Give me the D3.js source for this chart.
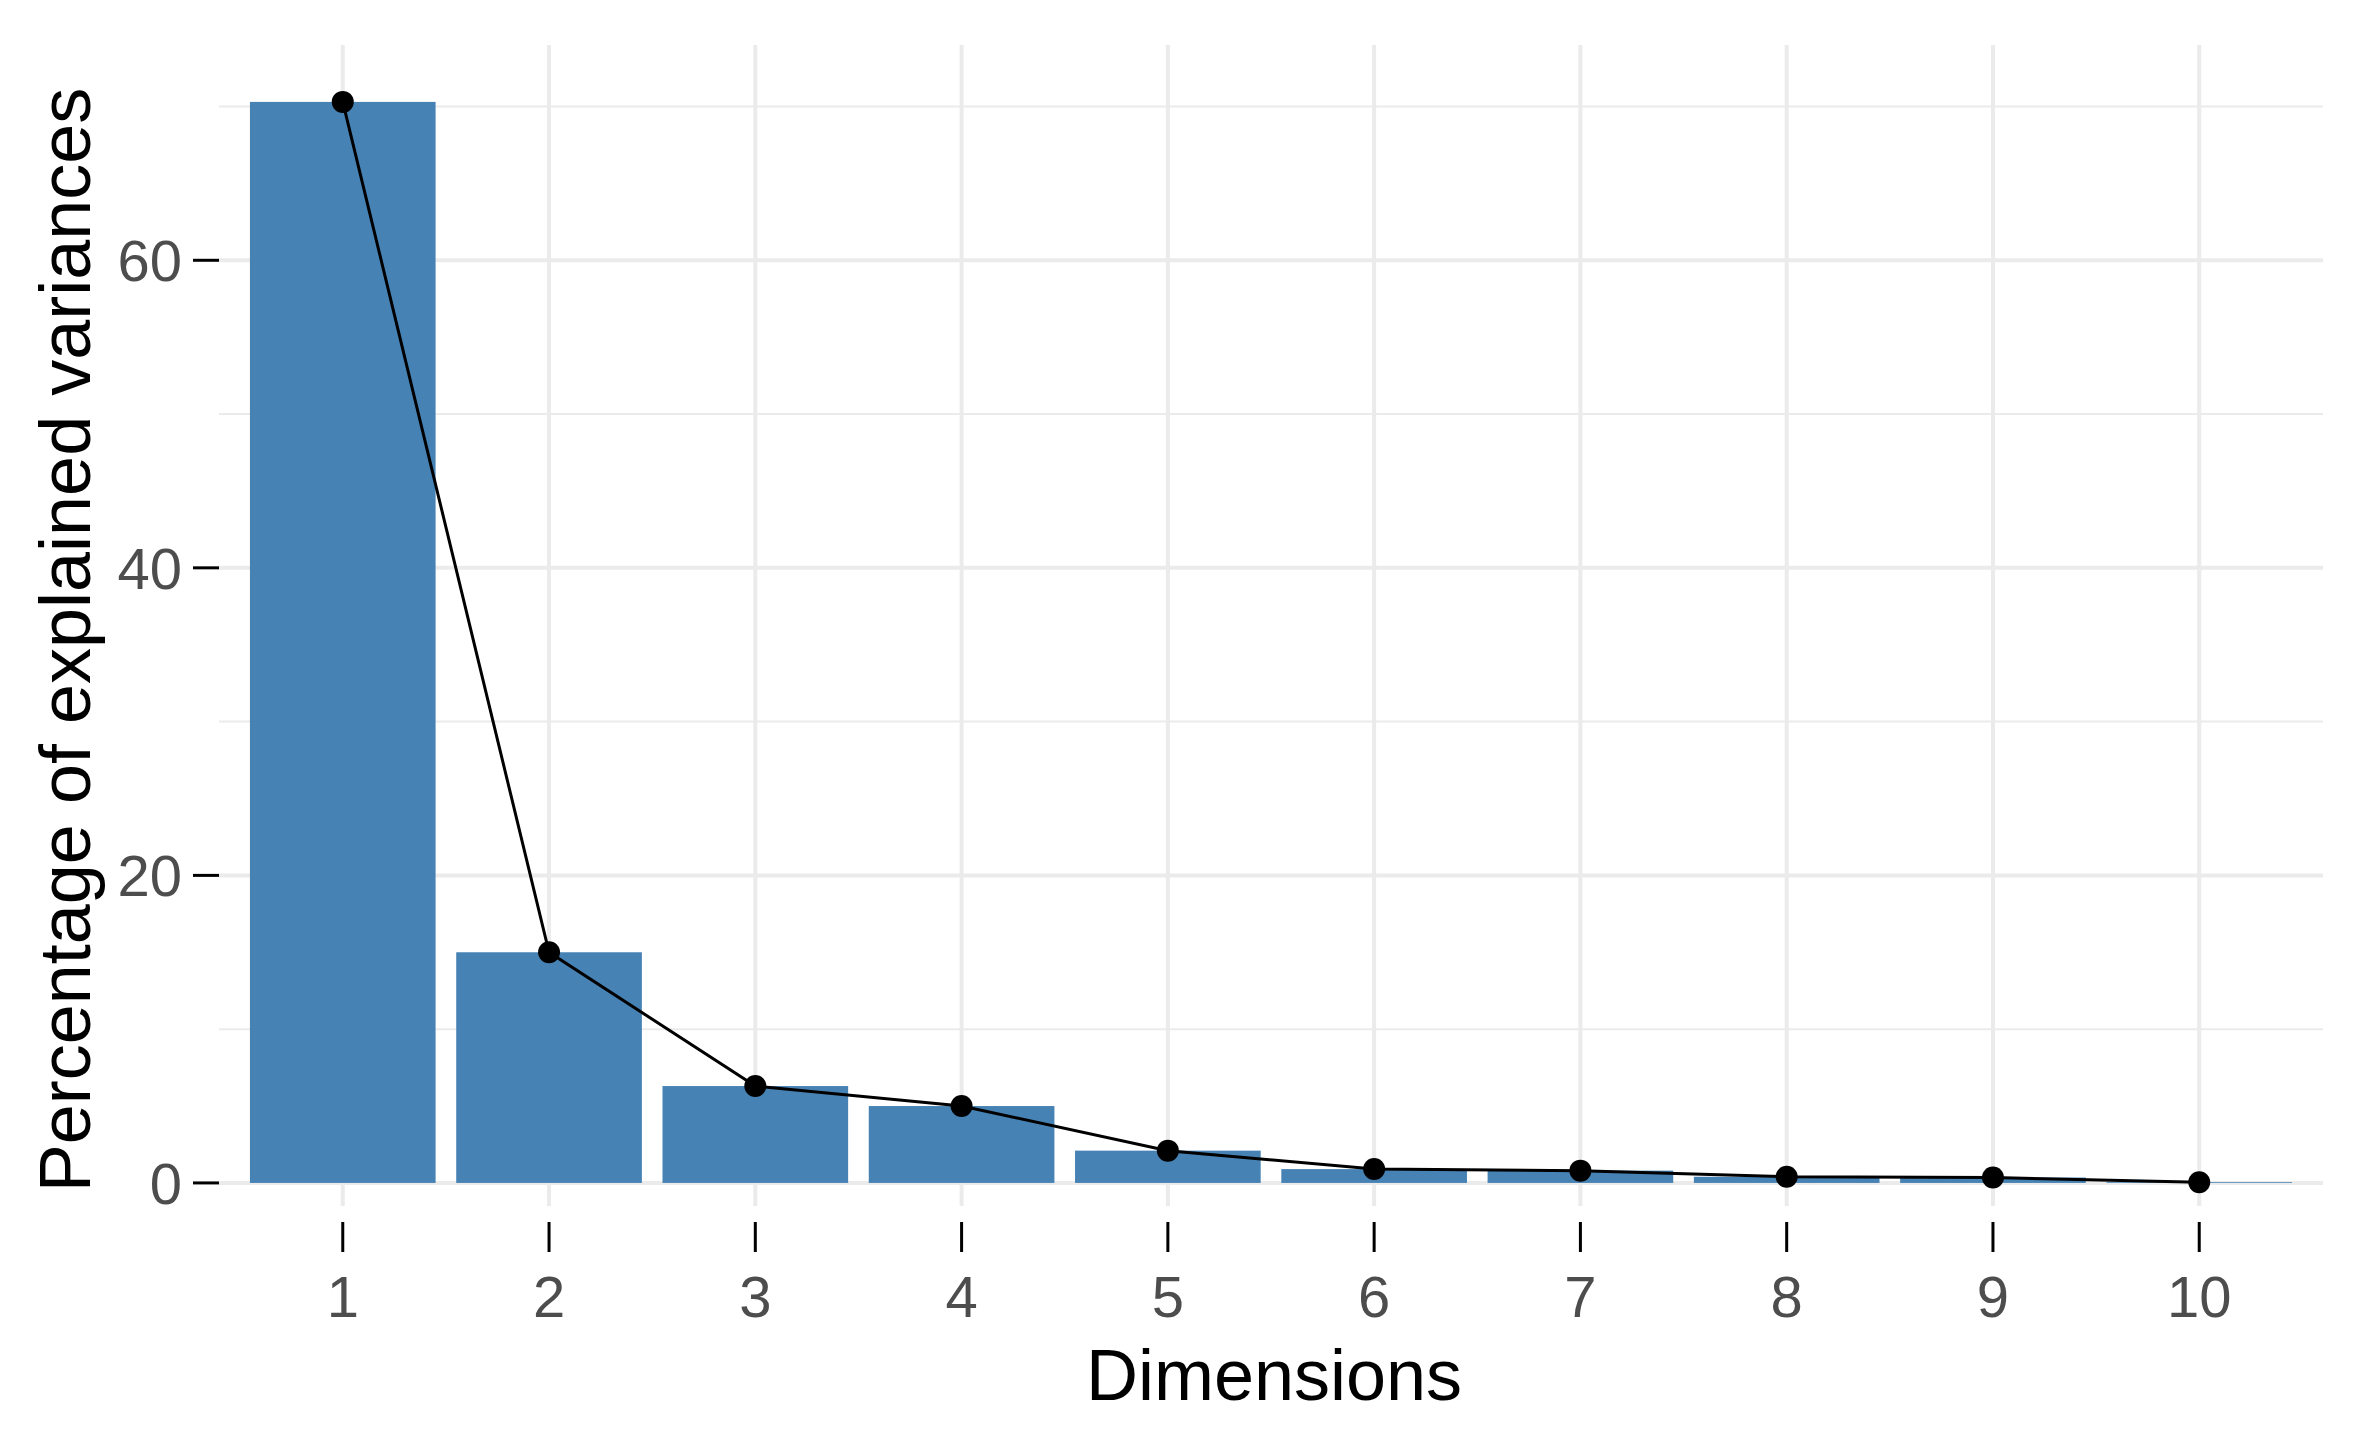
<!DOCTYPE html>
<html>
<head>
<meta charset="utf-8">
<script src="https://cdn.jsdelivr.net/npm/d3@7"></script>
<style>
  body { margin: 0; background: #fff; }
  text { font-family: "Liberation Sans", Arial, sans-serif; }
</style>
</head>
<body>
<div id="main"></div>
<script>
var dims = ["1", "2", "3", "4", "5", "6", "7", "8", "9", "10"];
var variances = [70.3, 15.0, 6.3, 5.0, 2.1, 0.9, 0.8, 0.4, 0.35, 0.05];
var yMajor = [0, 20, 40, 60];
var yMinor = [10, 30, 50, 70];

var ctx = { w: 2353, h: 1444, left: 219, right: 2323, top: 45, bottom: 1206 };

var svg = d3.select("#main").append("svg")
  .attr("width", ctx.w).attr("height", ctx.h);

var x = d3.scaleBand().domain(dims)
  .range([ctx.left, ctx.right])
  .paddingInner(0.1).paddingOuter(0.15);
var y = d3.scaleLinear().domain([-1.5, 74])
  .range([ctx.bottom, ctx.top]);

// grid
var grid = svg.append("g");
grid.selectAll(".minor").data(yMinor).enter().append("line")
  .attr("x1", ctx.left).attr("x2", ctx.right)
  .attr("y1", d => y(d)).attr("y2", d => y(d))
  .attr("stroke", "#ebebeb").attr("stroke-width", 2);
grid.selectAll(".major").data(yMajor).enter().append("line")
  .attr("x1", ctx.left).attr("x2", ctx.right)
  .attr("y1", d => y(d)).attr("y2", d => y(d))
  .attr("stroke", "#ebebeb").attr("stroke-width", 4);
grid.selectAll(".vx").data(dims).enter().append("line")
  .attr("x1", d => x(d) + x.bandwidth()/2).attr("x2", d => x(d) + x.bandwidth()/2)
  .attr("y1", ctx.top).attr("y2", ctx.bottom)
  .attr("stroke", "#ebebeb").attr("stroke-width", 4);

// bars
svg.append("g").selectAll("rect").data(variances).enter().append("rect")
  .attr("x", (d, i) => x(dims[i]))
  .attr("width", x.bandwidth())
  .attr("y", d => y(d))
  .attr("height", d => y(0) - y(d))
  .attr("fill", "#4682b4");

// line + points
var line = d3.line()
  .x((d, i) => x(dims[i]) + x.bandwidth()/2)
  .y(d => y(d));
svg.append("path").datum(variances)
  .attr("d", line).attr("fill", "none")
  .attr("stroke", "#000").attr("stroke-width", 3);
svg.append("g").selectAll("circle").data(variances).enter().append("circle")
  .attr("cx", (d, i) => x(dims[i]) + x.bandwidth()/2)
  .attr("cy", d => y(d)).attr("r", 11).attr("fill", "#000");

// y axis
var ya = svg.append("g");
ya.selectAll("line").data(yMajor).enter().append("line")
  .attr("x1", 193).attr("x2", ctx.left)
  .attr("y1", d => y(d)).attr("y2", d => y(d))
  .attr("stroke", "#000").attr("stroke-width", 3);
ya.selectAll("text").data(yMajor).enter().append("text")
  .attr("x", 182).attr("y", d => y(d)).attr("dy", "0.36em")
  .attr("text-anchor", "end").attr("font-size", 58).attr("fill", "#4d4d4d")
  .text(d => d);

// x axis
var xa = svg.append("g");
xa.selectAll("line").data(dims).enter().append("line")
  .attr("x1", d => x(d) + x.bandwidth()/2).attr("x2", d => x(d) + x.bandwidth()/2)
  .attr("y1", 1222).attr("y2", 1252)
  .attr("stroke", "#000").attr("stroke-width", 3);
xa.selectAll("text").data(dims).enter().append("text")
  .attr("x", d => x(d) + x.bandwidth()/2).attr("y", 1317)
  .attr("text-anchor", "middle").attr("font-size", 58).attr("fill", "#4d4d4d")
  .text(d => d);

// titles
svg.append("text")
  .attr("x", 1274).attr("y", 1400)
  .attr("text-anchor", "middle").attr("font-size", 72).attr("fill", "#000")
  .text("Dimensions");
svg.append("text")
  .attr("transform", "translate(90,640) rotate(-90)")
  .attr("text-anchor", "middle").attr("font-size", 72).attr("fill", "#000")
  .text("Percentage of explained variances");
</script>
</body>
</html>
